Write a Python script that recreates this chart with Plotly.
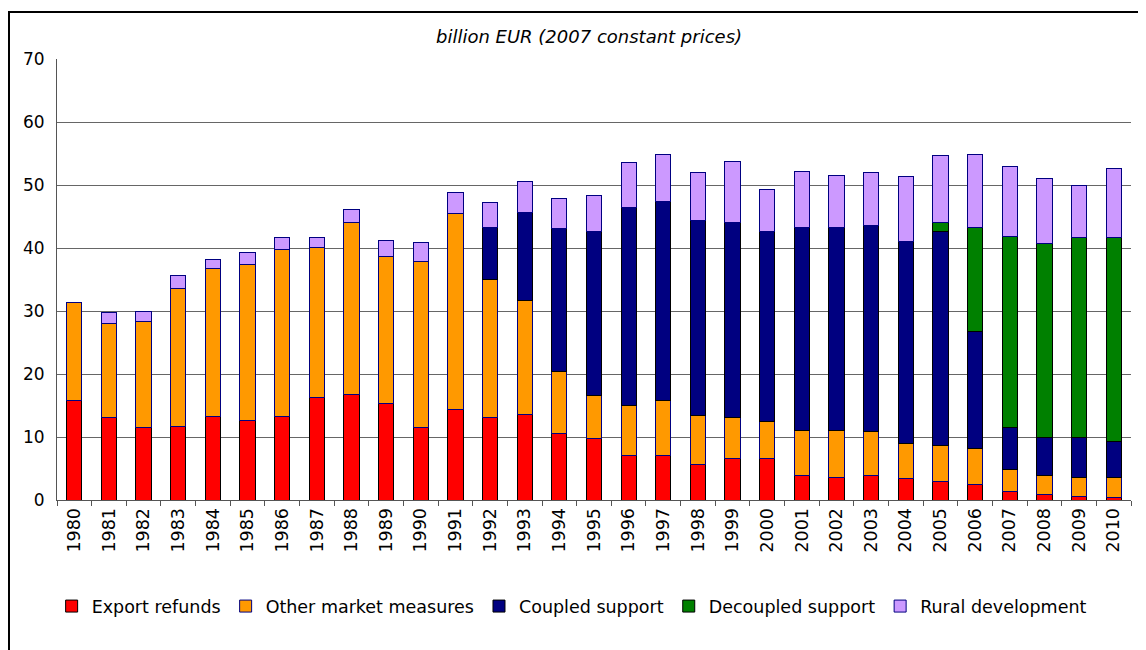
import plotly.graph_objects as go

years = [str(y) for y in range(1980, 2011)]

export_refunds = [15.8, 13.1, 11.5, 11.7, 13.3, 12.6, 13.3, 16.2, 16.7, 15.3, 11.5,
                  14.4, 13.1, 13.5, 10.6, 9.7, 7.0, 7.0, 5.7, 6.6, 6.6,
                  3.9, 3.65, 3.9, 3.4, 3.0, 2.4, 1.4, 0.8, 0.5, 0.4]
other_market = [15.6, 14.9, 16.9, 21.9, 23.4, 24.8, 26.5, 23.9, 27.4, 23.4, 26.4,
                31.0, 21.9, 18.1, 9.8, 6.9, 8.0, 8.8, 7.7, 6.5, 5.9,
                7.1, 7.35, 6.9, 5.6, 5.6, 5.7, 3.4, 3.1, 3.15, 3.25]
coupled = [0, 0, 0, 0, 0, 0, 0, 0, 0, 0, 0,
           0, 8.3, 14.0, 22.7, 26.0, 31.4, 31.6, 31.0, 30.9, 30.1,
           32.3, 32.3, 32.7, 32.1, 34.0, 18.6, 6.7, 6.1, 6.35, 5.65]
decoupled = [0] * 25 + [1.5, 16.5, 30.4, 30.7, 31.6, 32.3]
rural = [0, 1.8, 1.6, 2.1, 1.4, 1.9, 1.9, 1.6, 2.0, 2.5, 2.9,
         3.4, 4.0, 5.0, 4.8, 5.8, 7.1, 7.5, 7.6, 9.8, 6.7,
         8.9, 8.2, 8.5, 10.2, 10.6, 11.7, 11.0, 10.4, 8.4, 11.0]

series = [
    ("Export refunds", export_refunds, "#FF0000", "#000000"),
    ("Other market measures", other_market, "#FF9900", "#000080"),
    ("Coupled support", coupled, "#000080", "#000000"),
    ("Decoupled support", decoupled, "#008000", "#000000"),
    ("Rural development", rural, "#CC99FF", "#000080"),
]

FONT = "DejaVu Sans"

fig = go.Figure()
for name, vals, col, lc in series:
    fig.add_trace(go.Bar(
        x=years, y=vals, name=name,
        marker=dict(color=col, line=dict(color=lc, width=1)),
    ))

fig.update_layout(
    barmode="stack",
    bargap=0.56,
    width=1138, height=642,
    margin=dict(l=49, r=15, t=51, b=150),
    paper_bgcolor="white", plot_bgcolor="white",
    font=dict(family=FONT, size=15, color="black"),
    showlegend=True,
    legend=dict(
        orientation="h", x=-0.005, y=-0.2, xanchor="left", yanchor="top",
        font=dict(family=FONT, size=17.5, color="black"),
        traceorder="normal", itemwidth=30,
    ),
    xaxis=dict(
        type="category", tickangle=-90,
        ticks="outside", tickson="boundaries", ticklen=5, tickcolor="#555555",
        showline=True, linecolor="#555555", linewidth=1,
        tickfont=dict(family=FONT, size=17.5),
        showgrid=False,
    ),
    yaxis=dict(
        range=[0, 70], dtick=10, tick0=0,
        showgrid=True, gridcolor="#666666", gridwidth=1,
        showline=True, linecolor="#555555", linewidth=1,
        ticks="", ticklabelstandoff=8,
        tickfont=dict(family=FONT, size=17),
        zeroline=False,
    ),
    shapes=[dict(
        type="rect", xref="paper", yref="paper",
        x0=-0.0447, x1=1.03, y0=-0.36, y1=1.1066,
        line=dict(color="black", width=2), fillcolor="rgba(0,0,0,0)",
        layer="above",
    )],
    annotations=[dict(
        text="<i>billion EUR (2007 constant prices)</i>",
        xref="paper", yref="paper", x=0.495, y=1.05,
        xanchor="center", yanchor="middle", showarrow=False,
        font=dict(family=FONT, size=18, color="black"),
    )],
)

fig.write_html("out.html")
